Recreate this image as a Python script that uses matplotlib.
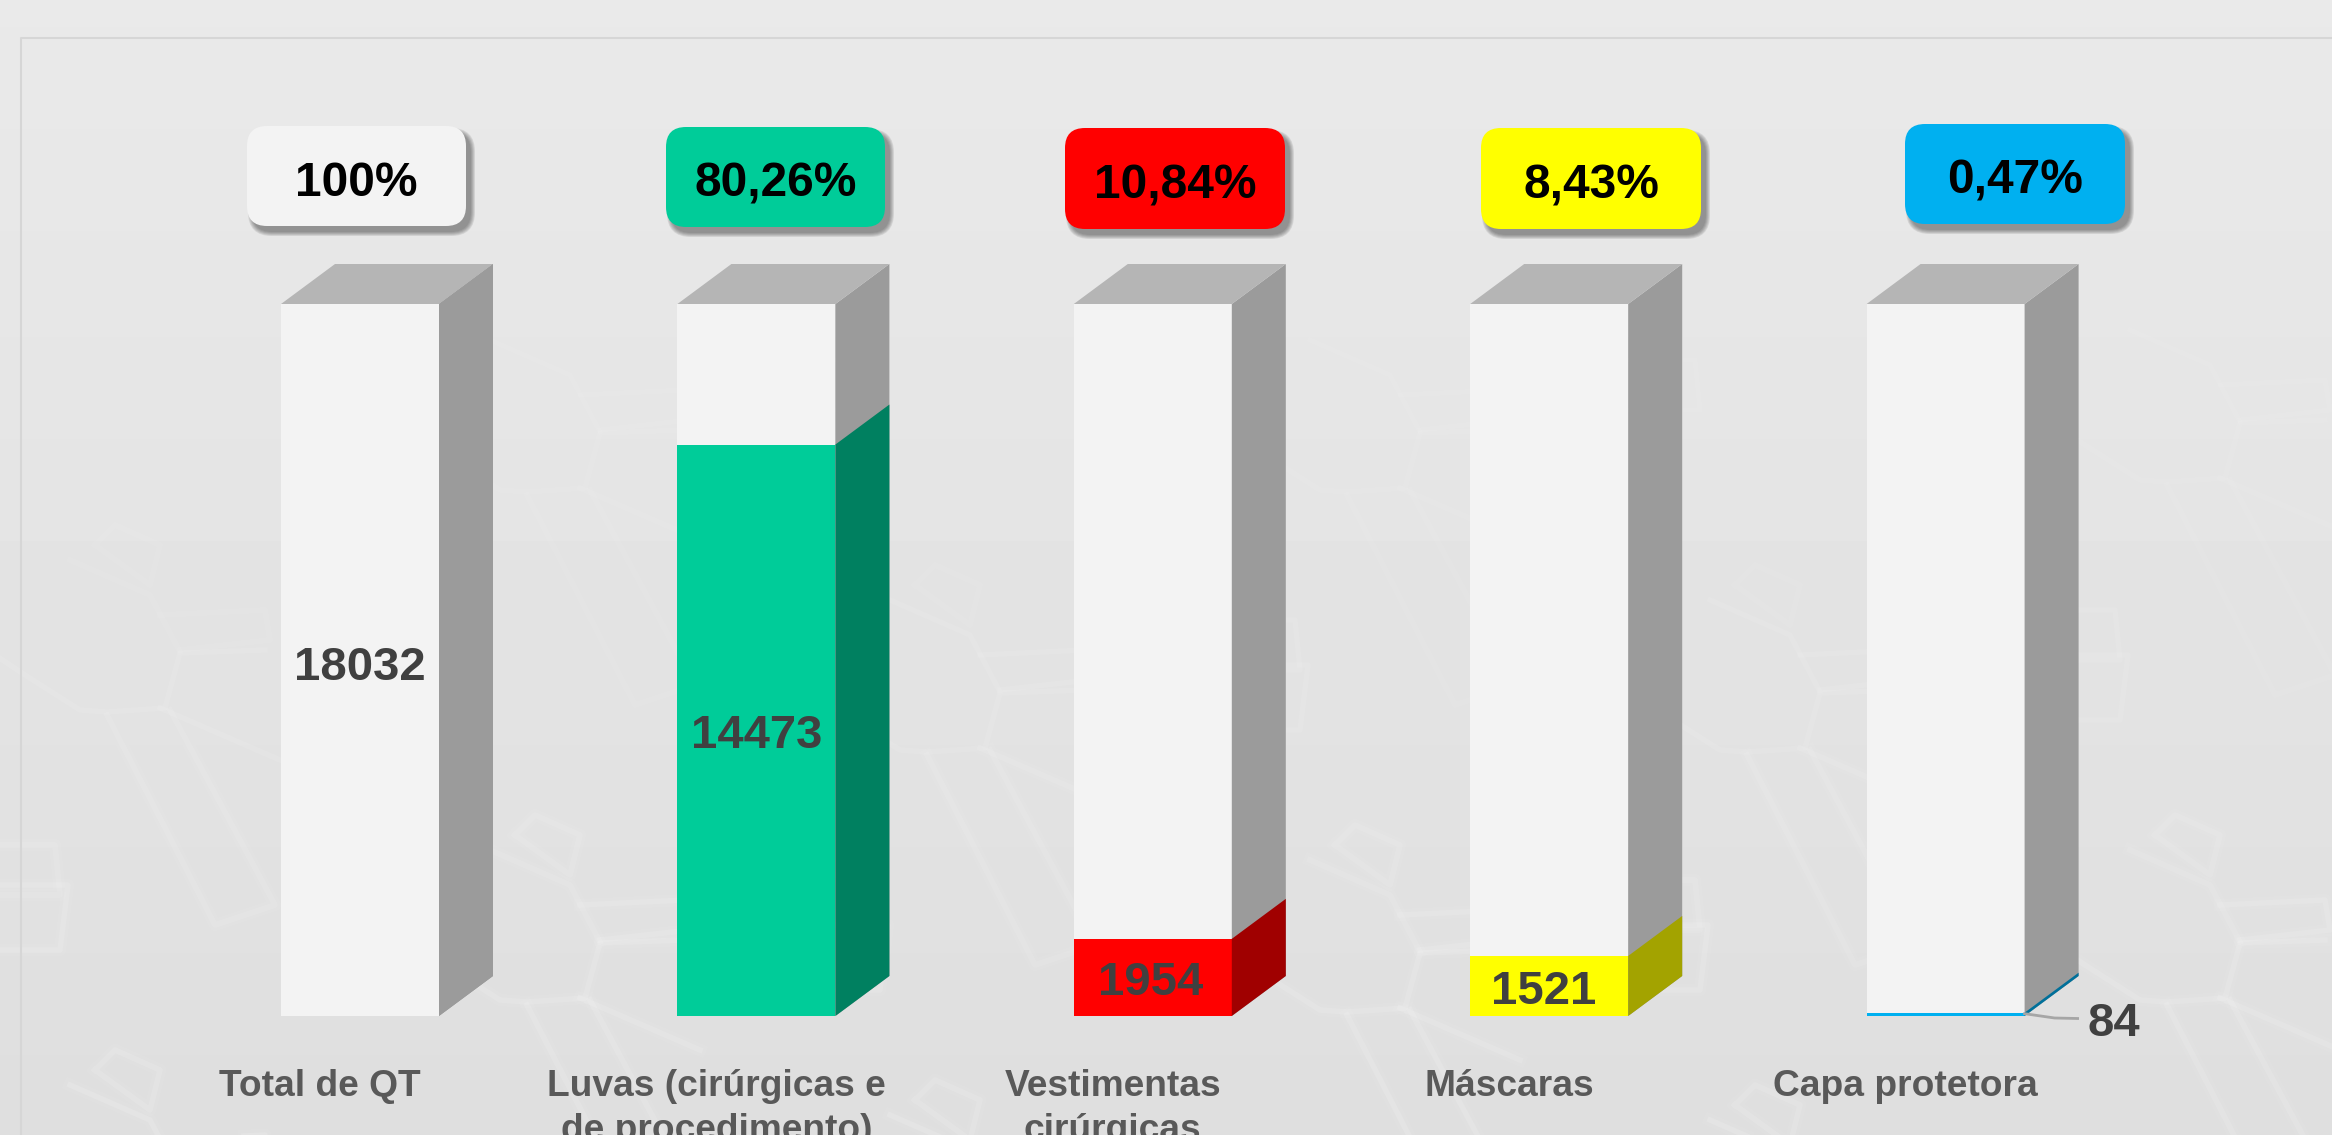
import numpy as np
import matplotlib
matplotlib.use("Agg")
import matplotlib.pyplot as plt
from matplotlib.patches import FancyBboxPatch, Polygon

W, H = 2332, 1135

categorias = [["Total de QT"], ["Luvas (cirúrgicas e", "de procedimento)"],
              ["Vestimentas", "cirúrgicas"], ["Máscaras"], ["Capa protetora"]]
valores = [18032, 14473, 1954, 1521, 84]
total = 18032
percentuais = ["100%", "80,26%", "10,84%", "8,43%", "0,47%"]
cores = ["#f3f3f3", "#00cc99", "#ff0000", "#ffff00", "#00b0f0"]
cores_lado = ["#9b9b9b", "#008060", "#a00000", "#a3a300", "#00709a"]

# caixas de percentual em pixels (esq, topo, dir, base)
caixas = [(247, 126, 466, 226), (666, 127, 885, 227), (1065, 128, 1285, 229),
          (1481, 128, 1701, 229), (1905, 124, 2125, 224)]

plt.rcParams['font.family'] = ['Liberation Sans', 'DejaVu Sans']
fig = plt.figure(figsize=(W / 100, H / 100), dpi=100)

# fundo em pixels
bg = fig.add_axes([0, 0, 1, 1])
bg.axis('off')
grad = np.linspace(0.915, 0.872, 256).reshape(-1, 1)
bg.imshow(grad, cmap='gray', vmin=0, vmax=1, extent=(0, W, H, 0), aspect='auto')
bg.set_xlim(0, W)
bg.set_ylim(H, 0)

# desenho claro do fundo: um motivo repetido
motivo = [
    [(-20, 645), (25, 675), (80, 710), (107, 712), (165, 708), (180, 653), (265, 650)],
    [(107, 715), (215, 925), (275, 905), (170, 710)],
    [(160, 708), (280, 760)],
    [(70, 560), (150, 595), (180, 652)],
    [(95, 545), (115, 525), (160, 545), (150, 585), (95, 545)],
    [(160, 615), (265, 610), (270, 640), (180, 650)],
    [(-40, 885), (68, 885), (60, 950), (-40, 950)],
    [(-30, 370), (60, 370), (55, 320), (-30, 320)],
]
carimbos = [(0, 0), (0, 525), (420, 290), (420, -220), (820, 40), (820, 555),
            (1240, 300), (1240, -220), (1640, 40), (1640, 560), (2060, 290), (2060, -230)]
for dx, dy in carimbos:
    for t in motivo:
        xs = [p[0] + dx for p in t]
        ys = [p[1] + dy for p in t]
        # mais fraco no alto da imagem
        forca = np.clip(np.mean(ys) / H, 0.15, 1)
        bg.plot(xs, ys, color='white', alpha=0.05 * forca, lw=9, solid_joinstyle='round')
        bg.plot(xs, ys, color='white', alpha=0.13 * forca, lw=4, solid_joinstyle='round')
bg.set_xlim(0, W)
bg.set_ylim(H, 0)
bg.plot([21, 21, W], [H, 38, 38], color='#d6d6d6', lw=1.5)

# eixo dos dados: y=0 em 1016 px, y=total em 304 px, categorias a cada 396 px
x0_px, passo_px, largura_px = 360.0, 396.4, 158.0
esq = -x0_px / passo_px
dir_ = (W - x0_px) / passo_px
escala = (1016 - 304) / total
ax = fig.add_axes([0, 0, 1, 1])
ax.patch.set_alpha(0)
ax.axis('off')
ax.set_xlim(esq, dir_)
ax.set_ylim(-(H - 1016) / escala, 1016 / escala)

largura = largura_px / passo_px
prof_x = 54 / passo_px
prof_y = 40 / escala
x = np.arange(len(valores))

ax.bar(x, [total] * len(x), width=largura, color=cores[0], zorder=2)
ax.bar(x, valores, width=largura, color=cores, zorder=3)
for i, v in enumerate(valores):
    d = x[i] + largura / 2
    e = x[i] - largura / 2
    ax.add_patch(Polygon([(d, 0), (d + prof_x, prof_y), (d + prof_x, total + prof_y), (d, total)],
                         fc=cores_lado[0], ec='none', zorder=2))
    ax.add_patch(Polygon([(d, 0), (d + prof_x, prof_y), (d + prof_x, v + prof_y), (d, v)],
                         fc=cores_lado[i], ec='none', zorder=3))
    ax.add_patch(Polygon([(e, total), (d, total), (d + prof_x, total + prof_y), (e + prof_x, total + prof_y)],
                         fc='#b5b5b5', ec='none', zorder=2))

# rótulos de valor, centrados em cada barra
ajuste_x = [0, 0, -2, -6]
ajuste_y = [8, 6, 6, 6]
for i in range(4):
    ax.text(x[i] + ajuste_x[i] / passo_px, valores[i] / 2 - ajuste_y[i] / escala, str(valores[i]),
            ha='center', va='center', fontsize=34, fontweight='bold', color='#404040', zorder=5)
d5 = x[4] + largura / 2
ax.plot([d5, d5 + 30 / passo_px, d5 + 53 / passo_px],
        [valores[4] - 1 / escala, -2 / escala, -2.5 / escala],
        color='#a6a6a6', lw=2, zorder=5)
ax.text(d5 + 63 / passo_px, -8 / escala, str(valores[4]), ha='left', va='center',
        fontsize=34, fontweight='bold', color='#404040', zorder=5)

# nomes das categorias
for i, linhas in enumerate(categorias):
    for k, linha in enumerate(linhas):
        ax.text(x[i] - 40 / passo_px, -(1096 + 44 * k - 1016) / escala, linha,
                ha='center', va='baseline', fontsize=26.7, fontweight='bold',
                color='#595959', zorder=5)

# caixas de percentual
raio = 20
for (l, t, r, b), p, c in zip(caixas, percentuais, cores):
    # sombra difusa em camadas
    for extra in [4, 3, 2, 1, 0]:
        bg.add_patch(FancyBboxPatch((l + raio + 5, t + raio + 6), r - l - 2 * raio, b - t - 2 * raio,
                                    boxstyle=f"round,pad={raio + extra},rounding_size={raio + extra}",
                                    fc='#404040', ec='none', alpha=0.13, zorder=3))
    bg.add_patch(FancyBboxPatch((l + raio, t + raio), r - l - 2 * raio, b - t - 2 * raio,
                                boxstyle=f"round,pad={raio},rounding_size={raio}",
                                fc=c, ec='none', zorder=4))
    bg.text((l + r) / 2, (t + b) / 2 + 7, p, ha='center', va='center',
            fontsize=34.5, fontweight='bold', color='black', zorder=5)

fig.savefig("out.png", dpi=100)
